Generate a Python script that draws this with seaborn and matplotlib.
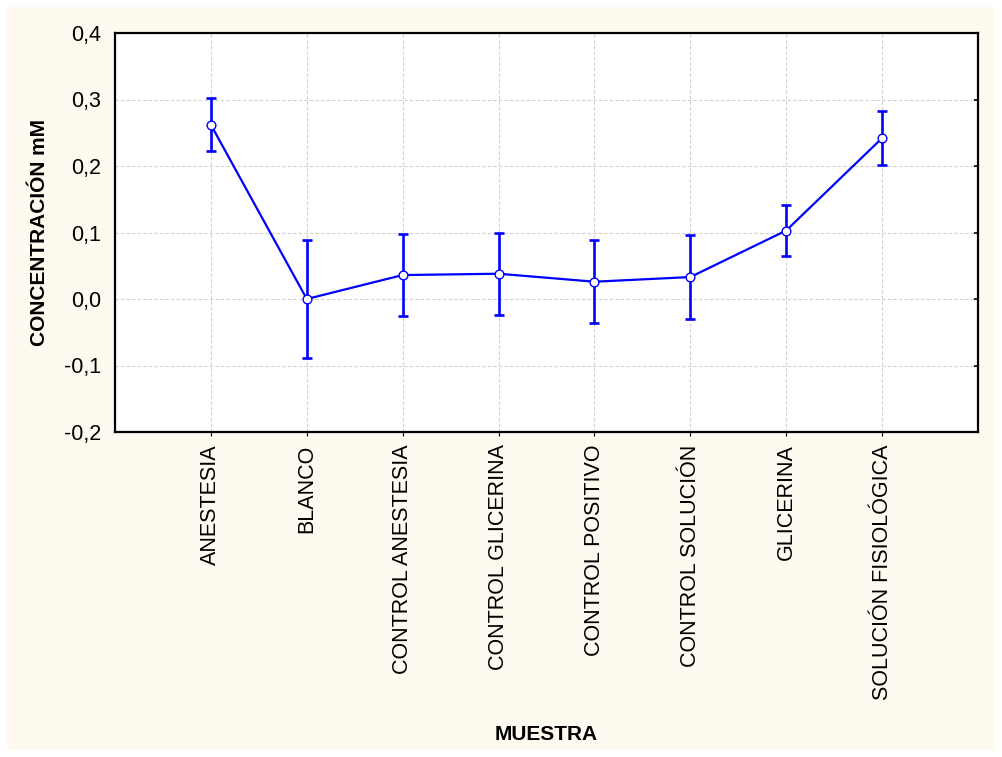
import matplotlib
matplotlib.use("Agg")
import matplotlib.pyplot as plt
import seaborn as sns
import numpy as np
import pandas as pd
from matplotlib.patches import Rectangle
from matplotlib.ticker import FixedLocator, FuncFormatter

categories = [
    "ANESTESIA", "BLANCO", "CONTROL ANESTESIA", "CONTROL GLICERINA",
    "CONTROL POSITIVO", "CONTROL SOLUCIÓN", "GLICERINA", "SOLUCIÓN FISIOLÓGICA",
]
means = [0.262, 0.000, 0.036, 0.038, 0.026, 0.033, 0.103, 0.242]
errors = [0.040, 0.088, 0.062, 0.062, 0.062, 0.063, 0.039, 0.040]
y_ticks = [-0.2, -0.1, 0.0, 0.1, 0.2, 0.3, 0.4]

sns.set_theme(style="white")
plt.rcParams["font.family"] = ["Liberation Sans", "DejaVu Sans"]

df = pd.DataFrame({"MUESTRA": categories, "CONC": means})

fig = plt.figure(figsize=(10.02, 7.57), dpi=100, facecolor="white")
fig.patches.append(Rectangle((7 / 1002, 7 / 757), 988 / 1002, 743 / 757,
                             transform=fig.transFigure, facecolor="#FFFAF0",
                             edgecolor="none", zorder=-10))
ax = fig.add_axes([115 / 1002, 1 - 432 / 757, (978 - 115) / 1002, (432 - 33) / 757])
ax.set_facecolor("white")

blue = "#0000FF"
ax.errorbar(np.arange(len(categories)), means, yerr=errors, fmt="none",
            ecolor=blue, elinewidth=1.9, capsize=3.4, capthick=1.9, zorder=3)
sns.pointplot(data=df, x="MUESTRA", y="CONC", ax=ax, color=blue,
              markers="o", linestyles="-", errorbar=None,
              markersize=6.3, markerfacecolor="white", markeredgecolor=blue,
              markeredgewidth=1.0, linewidth=1.6, zorder=4)

ax.set_xlim(-1, len(categories))
ax.set_ylim(-0.2, 0.4)
ax.yaxis.set_major_locator(FixedLocator(y_ticks))
ax.yaxis.set_major_formatter(FuncFormatter(lambda v, p: f"{v:.1f}".replace(".", ",").replace("-0,0", "0,0")))

ax.grid(True, color="#d0d0d0", linestyle=(0, (3, 2)), linewidth=0.8)
ax.set_axisbelow(True)
for s in ax.spines.values():
    s.set_visible(True)
    s.set_color("black")
    s.set_linewidth(1.6)

ax.tick_params(axis="y", which="both", left=False, right=True, direction="in",
               length=3, width=1.2, labelsize=15.5, pad=10, colors="black")
ax.tick_params(axis="x", bottom=True, direction="out", length=3, width=0.8,
               labelsize=15.5, pad=6, colors="black")
plt.setp(ax.get_xticklabels(), rotation=90, ha="center", va="top")

ax.set_xlabel("MUESTRA", fontsize=15, fontweight="bold", color="black", labelpad=0)
ax.xaxis.set_label_coords(0.5, -0.735)
ax.set_ylabel("CONCENTRACIÓN mM", fontsize=15, fontweight="bold", color="black")
ax.yaxis.set_label_coords(-0.077, 0.5)

fig.savefig("out.png", dpi=100, facecolor=fig.get_facecolor())
